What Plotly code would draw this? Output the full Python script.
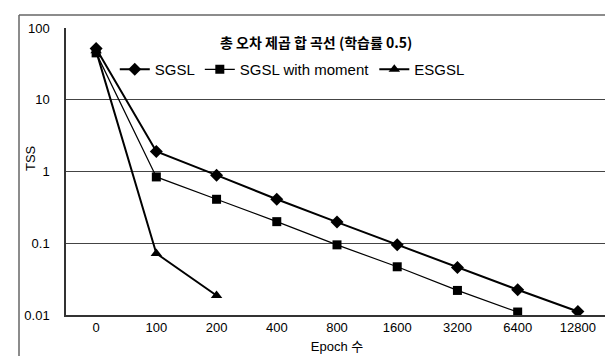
import plotly.graph_objects as go

categories = ["0", "100", "200", "400", "800", "1600", "3200", "6400", "12800"]
sgsl = [52, 1.9, 0.89, 0.41, 0.197, 0.095, 0.046, 0.0225, 0.0112]
sgsl_moment = [45, 0.84, 0.41, 0.2, 0.095, 0.047, 0.022, 0.011]
esgsl = [48, 0.072, 0.0187]
y_ticks = [0.01, 0.1, 1, 10, 100]
y_tick_labels = ["0.01", "0.1", "1", "10", "100"]

W, H = 613, 356
L, R, T, B = 58, 13, 20, 49

fig = go.Figure()
fig.add_trace(go.Scatter(
    x=categories[:len(sgsl)], y=sgsl, name="SGSL", mode="lines+markers",
    line=dict(color="black", width=2),
    marker=dict(symbol="diamond", size=10, color="black")))
fig.add_trace(go.Scatter(
    x=categories[:len(sgsl_moment)], y=sgsl_moment, name="SGSL with moment",
    mode="lines+markers",
    line=dict(color="black", width=1.2),
    marker=dict(symbol="square", size=9, color="black")))
fig.add_trace(go.Scatter(
    x=categories[:len(esgsl)], y=esgsl, name="ESGSL", mode="lines+markers",
    line=dict(color="black", width=2),
    marker=dict(symbol="triangle-up", size=10, color="black")))

font_main = "Liberation Sans, Arial, sans-serif"
fig.update_layout(
    width=W, height=H,
    margin=dict(l=L, r=R, t=T, b=B),
    paper_bgcolor="white", plot_bgcolor="white",
    font=dict(family=font_main, size=13, color="black"),
    showlegend=True,
    legend=dict(orientation="h", x=0.09, y=0.855, xanchor="left", yanchor="middle",
                bgcolor="rgba(0,0,0,0)", font=dict(size=15, family=font_main),
                itemwidth=30, tracegroupgap=0),
    xaxis=dict(type="category", categoryorder="array", categoryarray=categories,
               range=[-0.5, 8.5], showgrid=False, showline=True, linecolor="#333",
               linewidth=1.5, ticks="", tickfont=dict(size=13), zeroline=False,
               title=dict(text="Epoch 수", font=dict(size=13,
                          family="Liberation Sans, Noto Sans CJK KR, sans-serif"),
                          standoff=8)),
    yaxis=dict(type="log", range=[-2, 2], tickvals=y_ticks, ticktext=y_tick_labels,
               showgrid=True, gridcolor="#444", gridwidth=1, showline=True,
               linecolor="#333", linewidth=1.5, ticks="", tickfont=dict(size=13),
               ticklabelstandoff=12, zeroline=False),
)

fig.add_annotation(text="<b>총 오차 제곱 합 곡선 (학습률 0.5)</b>", xref="paper", yref="paper",
                   x=(308 - L) / (W - L - R), y=1 - (34 - T) / (H - T - B),
                   showarrow=False, font=dict(size=14, family="Noto Sans CJK KR, sans-serif"),
                   xanchor="center", yanchor="middle")
fig.add_annotation(text="TSS", xref="paper", yref="paper",
                   x=(22 - L) / (W - L - R), y=1 - (150 - T) / (H - T - B),
                   showarrow=False, textangle=-90, font=dict(size=13, family=font_main),
                   xanchor="center", yanchor="middle")

# outer chart frame
fig.add_shape(type="line", xref="paper", yref="paper",
              x0=(11 - L) / (W - L - R), x1=(W + 5 - L) / (W - L - R),
              y0=1 + (T - 7) / (H - T - B), y1=1 + (T - 7) / (H - T - B),
              line=dict(color="#666", width=1.5))
fig.add_shape(type="line", xref="paper", yref="paper",
              x0=(11 - L) / (W - L - R), x1=(11 - L) / (W - L - R),
              y0=1 + (T - 7) / (H - T - B), y1=-(B + 5) / (H - T - B),
              line=dict(color="#666", width=1.5))

fig.write_html("out.html")
